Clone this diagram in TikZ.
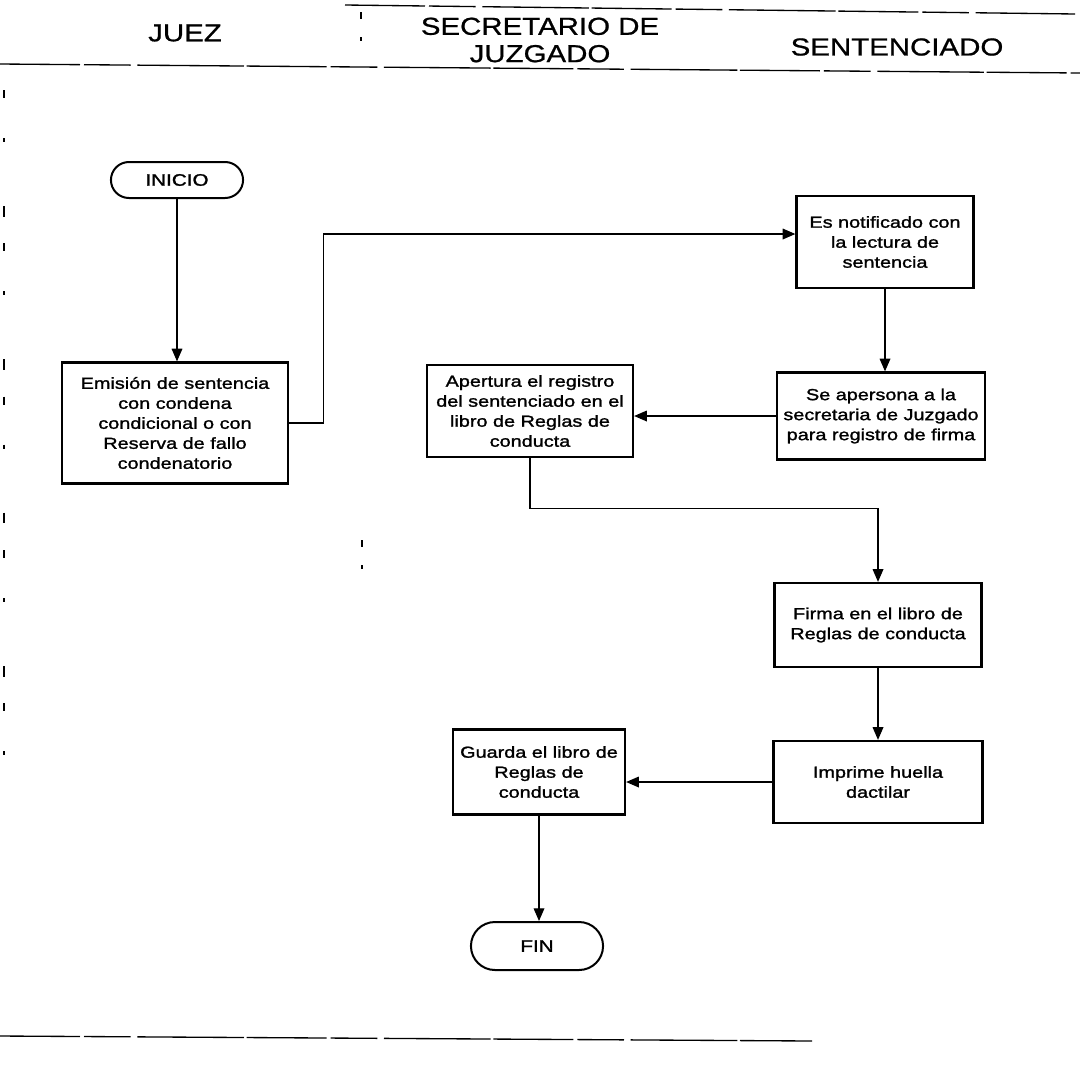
\documentclass[tikz,border=0pt]{standalone}
\usepackage{fontspec}
\setmainfont{Liberation Sans}[FakeStretch=1.2]
\newfontfamily\boxfont{Liberation Sans}[FakeStretch=1.24,FakeBold=1.4]
\newfontfamily\headfont{Liberation Sans}[FakeStretch=1.2,FakeBold=0.8]
\usetikzlibrary{arrows.meta,shapes.misc}
\tikzset{
  stepbox/.style={draw, line width=1.7pt, rectangle, align=center, inner sep=2pt,
    font=\boxfont\fontsize{12}{15}\selectfont},
  termbox/.style={draw, line width=1.5pt, rounded rectangle, align=center,
    font=\boxfont\fontsize{12.5}{15}\selectfont},
  flow/.style={line width=0.9pt, -{Triangle[length=9.5pt,width=8pt]}},
  lanehead/.style={align=center, font=\headfont\fontsize{18.4}{20.5}\selectfont},
  scanline/.style={line width=1pt, dash pattern=on 60pt off 3pt on 35pt off 5pt on 80pt off 2pt},
  speck/.style={line width=0.8pt, dash pattern=on 5pt off 14pt on 3pt off 22pt},
  sparse/.style={line width=0.8pt, dash pattern=on 6pt off 30pt on 3pt off 48pt on 8pt off 20pt}
}
\begin{document}
\begin{tikzpicture}[x=0.75pt,y=-0.75pt]
\useasboundingbox[fill=white] (0,0) rectangle (1080,1075);

% header lines and scan marks
\draw[scanline] (345,5) -- (1075,14);
\draw[scanline] (0,64) -- (1080,73);
\draw[speck] (361,12) -- (361,70);
\draw[sparse] (4,90) -- (4,800);
\draw[speck] (362,540) -- (362,575);
\draw[scanline] (0,1036) -- (812,1041);

% lane headers
\node[lanehead] (hjuez) at (185,33) {JUEZ};
\node[lanehead] (hsec) at (540,40) {SECRETARIO DE\\JUZGADO};
\node[lanehead] (hsent) at (897,47) {SENTENCIADO};

% nodes
\node[termbox, minimum width=105.75pt, minimum height=27pt] (inicio) at (177,180) {INICIO};
\node[stepbox, minimum width=169.5pt, minimum height=90.75pt] (emision) at (175,423)
  {Emisión de sentencia\\con condena\\condicional o con\\Reserva de fallo\\condenatorio};
\node[stepbox, minimum width=132.75pt, minimum height=69pt] (notif) at (885,242)
  {Es notificado con\\la lectura de\\sentencia};
\node[stepbox, minimum width=156pt, minimum height=65.25pt] (apers) at (881,416)
  {Se apersona a la\\secretaria de Juzgado\\para registro de firma};
\node[stepbox, minimum width=154.5pt, minimum height=69pt] (apert) at (530,411)
  {Apertura el registro\\del sentenciado en el\\libro de Reglas de\\conducta};
\node[stepbox, minimum width=155.25pt, minimum height=63pt] (firma) at (878,625)
  {Firma en el libro de\\Reglas de conducta};
\node[stepbox, minimum width=156.75pt, minimum height=61.5pt] (imprime) at (878,782)
  {Imprime huella\\dactilar};
\node[stepbox, minimum width=129pt, minimum height=63.75pt] (guarda) at (539,772)
  {Guarda el libro de\\Reglas de\\conducta};
\node[termbox, minimum width=105.75pt, minimum height=36pt] (fin) at (537,946) {FIN};

% connectors
\coordinate (e1) at ([xshift=25.5pt]emision.east);
\coordinate (n1) at ([yshift=6pt]notif.west);
\draw[flow] (inicio.south) -- (inicio.south |- emision.north);
\draw[flow] (emision.east) -- (e1) |- (n1);
\draw[flow] (notif.south) -- (notif.south |- apers.north);
\draw[flow] (apers.west) -- (apers.west -| apert.east);
\coordinate (a1) at ([yshift=-38pt]apert.south);
\draw[flow] (apert.south) -- (a1) -| (firma.north);
\draw[flow] (firma.south) -- (imprime.north);
\draw[flow] (imprime.west) -- (imprime.west -| guarda.east);
\draw[flow] (guarda.south) -- (guarda.south |- fin.north);
\end{tikzpicture}
\end{document}
